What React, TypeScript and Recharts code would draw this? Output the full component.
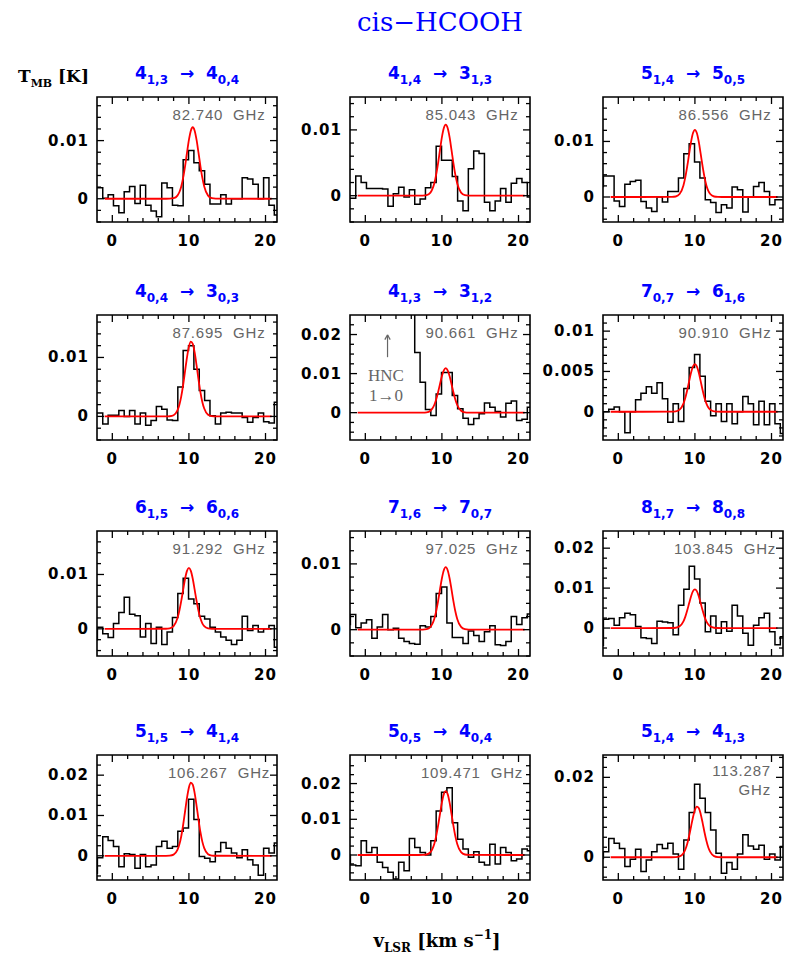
import { LineChart, Line, XAxis, YAxis, ReferenceArea, ReferenceLine } from 'recharts'

// channel velocities (km/s), shared by all spectra
const vel = [
  -2.3, -1.6, -0.9, -0.2, 0.5, 1.2, 1.9, 2.6, 3.3, 4.0, 4.7, 5.4, 6.1, 6.8, 7.5, 8.2, 8.9, 9.6,
  10.3, 11.0, 11.7, 12.4, 13.1, 13.8, 14.5, 15.2, 15.9, 16.6, 17.3, 18.0, 18.7, 19.4, 20.1, 20.8, 21.5, 22.2,
]

// velocities where the gaussian fits are read
const fitVel = [-1, 7, 7.5, 8, 8.5, 8.75, 9, 9.25, 9.5, 9.75, 10, 10.25, 10.5, 10.75, 11, 11.25, 11.5, 11.75, 12, 12.5, 13, 13.5, 20.8]

// observed spectra, T_MB (K)
const spec1 = [0.0019, 0.0019, 0.0001, 0.0007, -0.0012, -0.0024, 0.0012, 0.0021, -0.0008, 0.0023, -0.0011, -0.0021, -0.0031, 0.0027, 0.0019, -0.0011, -0.0012, 0.0067, 0.0083, 0.0062, 0.0048, 0.0025, -0.0009, -0.0009, 0.0007, -0.0009, 0.0, 0.0, 0.0036, 0.0034, 0.0025, 0.0, 0.0036, -0.0011, -0.0028, -0.0028]
const spec2 = [-0.0004, -0.0004, 0.003, 0.002, 0.0011, 0.0011, 0.0011, 0.001, -0.0016, 0.0003, 0.0013, -0.0002, 0.0009, -0.0013, -0.0005, 0.0012, 0.002, 0.0075, 0.0054, 0.0054, 0.0029, -0.0008, -0.0023, 0.0041, 0.0068, 0.0064, -0.001, -0.0023, -0.0008, 0.0011, -0.001, 0.0019, 0.0026, 0.002, -0.0002, -0.0002]
const spec3 = [0.0019, 0.0038, 0.0038, -0.0007, -0.0017, 0.0023, 0.0028, 0.003, -0.0008, -0.002, -0.0026, 0.0, -0.0009, 0.001, 0.001, 0.0034, 0.0078, 0.0096, 0.0063, 0.0034, -0.0005, -0.001, -0.0028, -0.0014, -0.002, 0.0018, 0.0013, -0.0027, 0.0, 0.0019, 0.0026, 0.001, -0.0014, -0.0005, -0.0005, -0.0005]
const spec4 = [0.0006, 0.0006, -0.0013, 0.0002, 0.0002, 0.001, 0.0, 0.001, -0.0013, 0.0006, -0.0015, -0.0007, 0.0017, 0.0012, -0.0006, -0.0007, 0.005, 0.0112, 0.012, 0.008, 0.0044, 0.0027, 0.0001, -0.0013, 0.0006, 0.0007, 0.0006, 0.0006, -0.0002, -0.001, -0.0002, 0.0006, -0.0009, -0.0011, 0.0024, 0.0024]
const spec5 = [0.05, 0.05, 0.05, 0.05, 0.05, 0.05, 0.05, 0.05, 0.05, 0.05, 0.05, 0.05, 0.05, 0.0154, 0.0078, 0.0008, -0.0007, 0.0048, 0.0103, 0.0103, 0.0044, 0.001, -0.0014, -0.003, -0.0015, -0.0003, 0.0025, 0.0014, 0.0003, -0.0011, 0.0024, 0.003, -0.002, -0.0017, 0.0014, -0.0005]
const spec6 = [-0.0021, 0.0, 0.0003, 0.0006, 0.0, -0.0026, 0.0, 0.0015, 0.0023, 0.0031, 0.0023, 0.0036, 0.0016, -0.0013, 0.001, -0.0012, 0.0029, 0.0055, 0.0071, 0.0044, 0.0013, -0.0005, 0.001, -0.0012, 0.001, -0.0015, 0.0, 0.0019, 0.001, -0.0016, 0.0013, -0.0016, 0.001, -0.0015, -0.0027, -0.0008]
const spec7 = [-0.002, 0.0003, -0.0009, -0.0016, 0.001, 0.003, 0.0058, 0.0027, 0.0024, -0.0015, 0.001, -0.0027, 0.0003, -0.0029, -0.0006, 0.0021, 0.0065, 0.0093, 0.0055, 0.0046, 0.0023, 0.0018, 0.0003, -0.0006, -0.0015, -0.0021, -0.0029, -0.0021, 0.0023, -0.0003, 0.0006, -0.0006, 0.0, 0.0006, -0.0034, -0.0034]
const spec8 = [0.0008, 0.0023, 0.0003, 0.001, 0.0015, -0.0013, 0.0004, 0.0023, 0.0, 0.0002, -0.0013, -0.0018, -0.0021, -0.0022, 0.0006, 0.0004, 0.002, 0.0055, 0.0065, 0.001, -0.0012, -0.0012, -0.0021, -0.0002, -0.0009, -0.0018, -0.0003, 0.0006, -0.0023, -0.0024, -0.0018, 0.002, 0.0008, 0.0018, 0.0024, -0.0004]
const spec9 = [-0.0043, 0.0022, 0.0024, 0.0007, 0.0026, 0.0037, 0.0033, 0.0004, -0.0024, -0.0026, -0.0039, 0.0017, 0.0015, 0.0013, -0.0017, 0.0057, 0.0097, 0.0155, 0.0123, 0.0063, -0.0009, 0.003, -0.0013, 0.0016, -0.0008, 0.0057, 0.003, -0.0013, -0.0043, 0.0007, 0.0026, 0.0037, -0.0009, -0.0042, -0.0022, -0.0022]
const spec10 = [-0.0043, -0.0005, 0.0047, 0.0038, 0.0023, -0.0027, 0.0005, 0.0003, -0.0031, 0.0003, -0.0027, -0.0023, 0.0023, 0.0036, 0.0019, 0.0023, 0.0061, 0.0069, 0.014, 0.009, -0.0002, -0.0006, -0.0015, 0.001, 0.0033, 0.0019, 0.0007, -0.0005, 0.0015, -0.001, -0.0023, -0.0048, 0.0019, 0.0007, 0.0032, 0.0032]
const spec11 = [0.0, -0.0028, -0.003, 0.004, 0.0007, 0.0021, -0.002, -0.0035, -0.0048, -0.0067, -0.002, -0.0044, 0.0046, 0.0021, 0.0007, 0.0, 0.004, 0.0123, 0.0176, 0.0188, 0.009, 0.0044, 0.0017, -0.0006, 0.0009, -0.002, -0.0028, 0.003, -0.0025, 0.0021, 0.0007, -0.0016, -0.0011, 0.0017, 0.0012, -0.0003]
const spec12 = [-0.0003, 0.0014, 0.0047, 0.0035, 0.0022, -0.0023, -0.0005, 0.002, -0.0036, -0.0007, 0.0014, 0.0032, 0.0022, 0.0035, 0.0008, -0.003, 0.0043, 0.0112, 0.0183, 0.0148, 0.0112, 0.0068, 0.001, -0.004, -0.0013, -0.003, 0.0008, 0.0056, 0.0028, 0.002, 0.003, -0.0005, 0.0008, -0.0007, 0.0027, 0.0027]

// gaussian fits read at fitVel
const fit1 = [0, 0, 0.00001, 0.00009, 0.00054, 0.00112, 0.00212, 0.00363, 0.00563, 0.00792, 0.01012, 0.01171, 0.0123, 0.01171, 0.01012, 0.00792, 0.00563, 0.00363, 0.00212, 0.00054, 0.00009, 0.00001, 0]
const fit2 = [0, 0, 0.00001, 0.00008, 0.00047, 0.00099, 0.00186, 0.00319, 0.00495, 0.00696, 0.00889, 0.01028, 0.0108, 0.01028, 0.00889, 0.00696, 0.00495, 0.00319, 0.00186, 0.00047, 0.00008, 0.00001, 0]
const fit3 = [0, 0.00001, 0.00009, 0.00053, 0.00208, 0.00357, 0.00554, 0.00779, 0.00996, 0.01152, 0.0121, 0.01152, 0.00996, 0.00779, 0.00554, 0.00357, 0.00208, 0.00111, 0.00053, 0.00009, 0.00001, 0, 0]
const fit4 = [0, 0, 0.00003, 0.0002, 0.00101, 0.00194, 0.00339, 0.00537, 0.00771, 0.01003, 0.01184, 0.01267, 0.01231, 0.01085, 0.00866, 0.00627, 0.00413, 0.00245, 0.00133, 0.00029, 0.00004, 0, 0]
const fit5 = [0, 0, 0.00001, 0.00009, 0.0005, 0.00104, 0.00196, 0.00336, 0.00522, 0.00734, 0.00938, 0.01085, 0.0114, 0.01085, 0.00938, 0.00734, 0.00522, 0.00336, 0.00196, 0.0005, 0.00009, 0.00001, 0]
const fit6 = [0, 0.00001, 0.00004, 0.00026, 0.00101, 0.00174, 0.0027, 0.0038, 0.00486, 0.00562, 0.0059, 0.00562, 0.00486, 0.0038, 0.0027, 0.00174, 0.00101, 0.00054, 0.00026, 0.00004, 0.00001, 0, 0]
const fit7 = [0, 0.00001, 0.00009, 0.00049, 0.00193, 0.0033, 0.00513, 0.00721, 0.00922, 0.01066, 0.0112, 0.01066, 0.00922, 0.00721, 0.00513, 0.0033, 0.00193, 0.00102, 0.00049, 0.00009, 0.00001, 0, 0]
const fit8 = [0, 0, 0.00001, 0.00007, 0.00042, 0.00087, 0.00163, 0.0028, 0.00435, 0.00612, 0.00782, 0.00904, 0.0095, 0.00904, 0.00782, 0.00612, 0.00435, 0.0028, 0.00163, 0.00042, 0.00007, 0.00001, 0]
const fit9 = [0, 0.00001, 0.00007, 0.00043, 0.00167, 0.00286, 0.00444, 0.00625, 0.00798, 0.00923, 0.0097, 0.00923, 0.00798, 0.00625, 0.00444, 0.00286, 0.00167, 0.00089, 0.00043, 0.00007, 0.00001, 0, 0]
const fit10 = [0, 0, 0.00004, 0.00029, 0.00145, 0.00278, 0.00486, 0.0077, 0.01105, 0.01438, 0.01696, 0.01816, 0.01764, 0.01554, 0.01241, 0.00899, 0.00592, 0.00351, 0.00191, 0.00041, 0.00006, 0.00001, 0]
const fit11 = [0, 0, 0.00002, 0.00014, 0.00079, 0.00164, 0.00308, 0.00528, 0.0082, 0.01153, 0.01473, 0.01704, 0.0179, 0.01704, 0.01473, 0.01153, 0.0082, 0.00528, 0.00308, 0.00079, 0.00014, 0.00002, 0]
const fit12 = [0, 0, 0.00003, 0.0002, 0.00101, 0.00194, 0.00339, 0.00537, 0.00771, 0.01003, 0.01184, 0.01267, 0.01231, 0.01085, 0.00866, 0.00627, 0.00413, 0.00245, 0.00133, 0.00029, 0.00004, 0, 0]

// ticks
const xTicks = [0, 2, 4, 6, 8, 10, 12, 14, 16, 18, 20]
const xLabels = [0, 10, 20]
const yTicks16 = [-0.004, -0.002, 0, 0.002, 0.004, 0.006, 0.008, 0.01, 0.012, 0.014, 0.016]
const yTicks14 = [-0.004, -0.002, 0, 0.002, 0.004, 0.006, 0.008, 0.01, 0.012, 0.014]
const yTicksFine = [-0.003, -0.002, -0.001, 0, 0.001, 0.002, 0.003, 0.004, 0.005, 0.006, 0.007, 0.008, 0.009, 0.01, 0.011]
const yTicksQ = [-0.005, -0.0025, 0, 0.0025, 0.005, 0.0075, 0.01, 0.0125, 0.015, 0.0175, 0.02, 0.0225]
const yTicksQ25 = [-0.005, -0.0025, 0, 0.0025, 0.005, 0.0075, 0.01, 0.0125, 0.015, 0.0175, 0.02, 0.0225, 0.025]

// transitions: [J, Ka,Kc, J', Ka',Kc']
const transitions = [
  ['4', '1,3', '4', '0,4'], ['4', '1,4', '3', '1,3'], ['5', '1,4', '5', '0,5'],
  ['4', '0,4', '3', '0,3'], ['4', '1,3', '3', '1,2'], ['7', '0,7', '6', '1,6'],
  ['6', '1,5', '6', '0,6'], ['7', '1,6', '7', '0,7'], ['8', '1,7', '8', '0,8'],
  ['5', '1,5', '4', '1,4'], ['5', '0,5', '4', '0,4'], ['5', '1,4', '4', '1,3'],
]
const freqs = ['82.740', '85.043', '86.556', '87.695', '90.661', '90.910', '91.292', '97.025', '103.845', '106.267', '109.471', '113.287']
const specs = [spec1, spec2, spec3, spec4, spec5, spec6, spec7, spec8, spec9, spec10, spec11, spec12]
const fits = [fit1, fit2, fit3, fit4, fit5, fit6, fit7, fit8, fit9, fit10, fit11, fit12]
const yDomains = [
  [-0.004, 0.0175], [-0.004, 0.015], [-0.0045, 0.018],
  [-0.004, 0.0172], [-0.007, 0.025], [-0.0035, 0.012],
  [-0.005, 0.018], [-0.004, 0.015], [-0.007, 0.0243],
  [-0.006, 0.025], [-0.007, 0.028], [-0.0057, 0.0256],
]
const yTickSets = [yTicks16, yTicks14, yTicks16, yTicks16, yTicksQ, yTicksFine, yTicks16, yTicks14, yTicksQ, yTicksQ, yTicksQ25, yTicksQ25]
const yLabelSets = [
  [0, 0.01], [0, 0.01], [0, 0.01], [0, 0.01], [0, 0.01, 0.02], [0, 0.005, 0.01],
  [0, 0.01], [0, 0.01], [0, 0.01, 0.02], [0, 0.01, 0.02], [0, 0.01, 0.02], [0, 0.02],
]

const xDomain = [-2, 21.5]

// chart geometry
const CW = 258
const CH = 175
const ML = 0
const MR = 16
const MT = 10
const MB = 10
const YW = 62
const XH = 30
const PL = ML + YW
const PW = CW - ML - MR - YW
const PT = MT
const PH = CH - MT - MB - XH

const colLeft = [97, 350, 603]
const rowTop = [97, 315, 531, 755]

const tickFont: React.CSSProperties = {
  fontFamily: '"DejaVu Sans", sans-serif',
  fontWeight: 700,
  fontSize: 15,
  letterSpacing: 1,
}

const isOn = (v: number, list: number[]) => list.some((l) => Math.abs(l - v) < 1e-9)

const XTick = (props: any) => {
  const { x, payload } = props
  const v = payload.value
  const major = isOn(v, xLabels)
  const len = major ? 7 : 4
  const yb = PT + PH
  return (
    <g>
      <line x1={x} x2={x} y1={yb} y2={yb - len} stroke="#000" strokeWidth={1.3} />
      <line x1={x} x2={x} y1={PT} y2={PT + len} stroke="#000" strokeWidth={1.3} />
      {major && (
        <text x={x} y={yb + 19} textAnchor="middle" dominantBaseline="central" fill="#000" style={tickFont}>
          {v}
        </text>
      )}
    </g>
  )
}

const makeYTick = (labels: number[]) => (props: any) => {
  const { y, payload } = props
  const v = payload.value
  const major = isOn(v, labels)
  const len = major ? 7 : 4
  return (
    <g>
      <line x1={PL} x2={PL + len} y1={y} y2={y} stroke="#000" strokeWidth={1.3} />
      <line x1={PL + PW} x2={PL + PW - len} y1={y} y2={y} stroke="#000" strokeWidth={1.3} />
      {major && (
        <text x={PL - 8} y={y} textAnchor="end" dominantBaseline="central" fill="#000" style={tickFont}>
          {String(v)}
        </text>
      )}
    </g>
  )
}

const Panel = ({ idx }: { idx: number }) => {
  const left = colLeft[idx % 3]
  const top = rowTop[Math.floor(idx / 3)]
  const yDom = yDomains[idx]
  const data = vel.map((v, i) => ({ v, t: specs[idx][i] }))
  const fit = fitVel.map((v, i) => ({ v, f: fits[idx][i] }))
  const t = transitions[idx]

  const transStyle: React.CSSProperties = {
    position: 'absolute',
    left: left + PW / 2,
    top: top - 24,
    transform: 'translate(-50%, -50%)',
    color: '#0000ff',
    fontFamily: '"DejaVu Sans", sans-serif',
    fontWeight: 700,
    fontSize: 17,
    whiteSpace: 'nowrap',
    lineHeight: 1,
  }
  const subStyle: React.CSSProperties = { fontSize: 12, position: 'relative', top: 5 }

  const freqStyle: React.CSSProperties = {
    position: 'absolute',
    color: '#666',
    fontFamily: '"Liberation Sans", Arial, sans-serif',
    fontSize: 15,
    letterSpacing: 0.8,
    whiteSpace: 'nowrap',
    lineHeight: '19px',
  }

  return (
    <>
      <div style={{ position: 'absolute', left: left - PL, top: top - PT }}>
        <LineChart width={CW} height={CH} margin={{ top: MT, right: MR, bottom: MB, left: ML }}>
          <XAxis
            type="number"
            dataKey="v"
            domain={xDomain}
            ticks={xTicks}
            interval={0}
            allowDataOverflow
            axisLine={false}
            tickLine={false}
            tickSize={0}
            tickMargin={0}
            height={XH}
            tick={XTick}
          />
          <YAxis
            type="number"
            domain={yDom}
            ticks={yTickSets[idx]}
            interval={0}
            allowDataOverflow
            axisLine={false}
            tickLine={false}
            tickSize={0}
            tickMargin={0}
            width={YW}
            tick={makeYTick(yLabelSets[idx])}
          />
          <Line data={data} dataKey="t" type="step" stroke="#000" strokeWidth={1.5} dot={false} activeDot={false} isAnimationActive={false} />
          <Line data={fit} dataKey="f" type="monotone" stroke="#ff0000" strokeWidth={1.8} dot={false} activeDot={false} isAnimationActive={false} />
          {idx === 4 && (
            <ReferenceLine segment={[{ x: 2.9, y: 0.0142 }, { x: 2.9, y: 0.0199 }]} stroke="#666" strokeWidth={1.2} ifOverflow="visible" />
          )}
          {idx === 4 && (
            <ReferenceLine segment={[{ x: 2.55, y: 0.0187 }, { x: 2.9, y: 0.0199 }]} stroke="#666" strokeWidth={1.2} ifOverflow="visible" />
          )}
          {idx === 4 && (
            <ReferenceLine segment={[{ x: 3.25, y: 0.0187 }, { x: 2.9, y: 0.0199 }]} stroke="#666" strokeWidth={1.2} ifOverflow="visible" />
          )}
          <ReferenceArea
            x1={xDomain[0]}
            x2={xDomain[1]}
            y1={yDom[0]}
            y2={yDom[1]}
            fill="none"
            stroke="#000"
            strokeWidth={1.6}
            ifOverflow="visible"
          />
        </LineChart>
      </div>

      <div style={transStyle}>
        {t[0]}
        <span style={subStyle}>{t[1]}</span>
        {'\u00a0\u00a0→\u00a0\u00a0'}
        {t[2]}
        <span style={subStyle}>{t[3]}</span>
      </div>

      {idx === 11 ? (
        <div style={{ ...freqStyle, right: 800 - (left + PW - 12), top: top + 6, textAlign: 'right' }}>
          {freqs[idx]}
          <br />
          GHz
        </div>
      ) : (
        <div style={{ ...freqStyle, left: left + 122, top: top + 17, transform: 'translate(-50%, -50%)' }}>
          {freqs[idx]}
          {'\u00a0\u00a0'}GHz
        </div>
      )}
    </>
  )
}

const App = () => {
  const pageStyle: React.CSSProperties = {
    position: 'absolute',
    left: 0,
    top: 0,
    width: 800,
    height: 968,
    overflow: 'hidden',
    background: '#fff',
  }

  const titleStyle: React.CSSProperties = {
    position: 'absolute',
    left: 440,
    top: 22,
    transform: 'translate(-50%, -50%)',
    color: '#0000ff',
    fontFamily: '"DejaVu Serif", serif',
    fontSize: 26,
    whiteSpace: 'nowrap',
  }

  const axisTitle: React.CSSProperties = {
    position: 'absolute',
    fontFamily: '"DejaVu Serif", serif',
    fontWeight: 700,
    fontSize: 17,
    color: '#000',
    whiteSpace: 'nowrap',
  }

  const hncStyle: React.CSSProperties = {
    position: 'absolute',
    transform: 'translate(-50%, -50%)',
    color: '#666',
    fontFamily: '"Liberation Serif", serif',
    fontSize: 17,
    whiteSpace: 'nowrap',
  }

  return (
    <div style={pageStyle}>
      <div style={titleStyle}>cis−HCOOH</div>
      <div style={{ ...axisTitle, left: 18, top: 66 }}>
        T<span style={{ fontSize: 11, position: 'relative', top: 5 }}>MB</span> [K]
      </div>
      <div style={{ ...axisTitle, left: 437, top: 940, transform: 'translate(-50%, -50%)', fontSize: 18 }}>
        v<span style={{ fontSize: 12, position: 'relative', top: 5 }}>LSR</span> [km s
        <span style={{ fontSize: 12, position: 'relative', top: -8 }}>−1</span>]
      </div>
      {specs.map((_, i) => (
        <Panel key={i} idx={i} />
      ))}
      <div style={{ ...hncStyle, left: 386, top: 376 }}>HNC</div>
      <div style={{ ...hncStyle, left: 386, top: 396 }}>1→0</div>
    </div>
  )
}

export default App
